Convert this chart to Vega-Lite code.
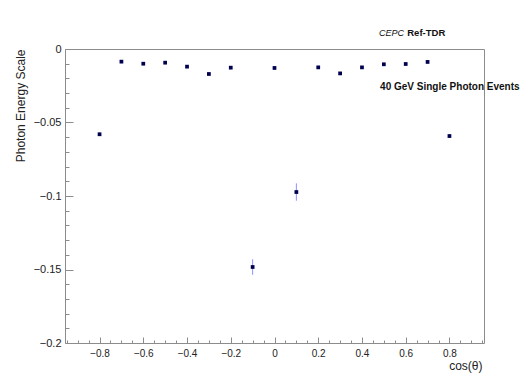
{
  "$schema": "https://vega.github.io/schema/vega-lite/v6.json",
  "autosize": "none",
  "width": 419,
  "height": 294,
  "padding": {"left": 65, "top": 49, "right": 47, "bottom": 35},
  "background": "white",
  "config": {
    "view": {"stroke": "#8c8c8c", "strokeWidth": 1},
    "font": "Liberation Sans",
    "axis": {"grid": false, "domain": false, "tickColor": "#8c8c8c", "labelColor": "#222", "titleColor": "#222", "labelFont": "Liberation Sans", "titleFont": "Liberation Sans", "titleFontWeight": "normal"}
  },
  "data": {"values": [
    {"cos": -0.8, "scale": -0.0580, "lo": -0.0592, "hi": -0.0568},
    {"cos": -0.7, "scale": -0.0086, "lo": -0.0096, "hi": -0.0076},
    {"cos": -0.6, "scale": -0.0100, "lo": -0.0110, "hi": -0.0090},
    {"cos": -0.5, "scale": -0.0093, "lo": -0.0103, "hi": -0.0083},
    {"cos": -0.4, "scale": -0.0120, "lo": -0.0130, "hi": -0.0110},
    {"cos": -0.3, "scale": -0.0170, "lo": -0.0180, "hi": -0.0160},
    {"cos": -0.2, "scale": -0.0127, "lo": -0.0137, "hi": -0.0117},
    {"cos": -0.1, "scale": -0.1483, "lo": -0.1536, "hi": -0.1430},
    {"cos": 0.0, "scale": -0.0129, "lo": -0.0139, "hi": -0.0119},
    {"cos": 0.1, "scale": -0.0973, "lo": -0.1032, "hi": -0.0914},
    {"cos": 0.2, "scale": -0.0125, "lo": -0.0135, "hi": -0.0115},
    {"cos": 0.3, "scale": -0.0166, "lo": -0.0176, "hi": -0.0156},
    {"cos": 0.4, "scale": -0.0125, "lo": -0.0135, "hi": -0.0115},
    {"cos": 0.5, "scale": -0.0104, "lo": -0.0114, "hi": -0.0094},
    {"cos": 0.6, "scale": -0.0102, "lo": -0.0112, "hi": -0.0092},
    {"cos": 0.7, "scale": -0.0088, "lo": -0.0098, "hi": -0.0078},
    {"cos": 0.8, "scale": -0.0592, "lo": -0.0604, "hi": -0.0580}
  ]},
  "resolve": {"axis": {"x": "independent", "y": "independent"}},
  "layer": [
    {
      "mark": {"type": "rule", "color": "#8f8fff", "strokeWidth": 1},
      "encoding": {
        "x": {"field": "cos", "type": "quantitative", "scale": {"domain": [-0.958, 0.958], "nice": false, "zero": false},
          "axis": {"orient": "bottom", "values": [-0.95, -0.9, -0.85, -0.75, -0.7, -0.65, -0.55, -0.5, -0.45, -0.35, -0.3, -0.25, -0.15, -0.1, -0.05, 0.05, 0.1, 0.15, 0.25, 0.3, 0.35, 0.45, 0.5, 0.55, 0.65, 0.7, 0.75, 0.85, 0.9, 0.95], "labels": false, "tickSize": -3, "title": null}},
        "y": {"field": "lo", "type": "quantitative", "scale": {"domain": [-0.2, 0], "nice": false, "zero": false},
          "axis": {"orient": "left", "values": [-0.19, -0.18, -0.17, -0.16, -0.14, -0.13, -0.12, -0.11, -0.09, -0.08, -0.07, -0.06, -0.04, -0.03, -0.02, -0.01], "labels": false, "tickSize": -4, "title": null}},
        "y2": {"field": "hi"}
      }
    },
    {
      "mark": {"type": "square", "color": "#000050", "opacity": 1, "filled": true, "size": 14},
      "encoding": {
        "x": {"field": "cos", "type": "quantitative",
          "axis": {"orient": "bottom", "values": [-0.8, -0.6, -0.4, -0.2, 0, 0.2, 0.4, 0.6, 0.8], "format": "~g", "tickSize": -6, "labelFontSize": 10, "labelPadding": 11, "title": "cos(θ)", "titleFontSize": 12, "titleAnchor": "end", "titleAlign": "right", "titleX": 417, "titleY": 22, "titleBaseline": "middle"}},
        "y": {"field": "scale", "type": "quantitative",
          "axis": {"orient": "left", "values": [-0.2, -0.15, -0.1, -0.05, 0], "format": "~g", "tickSize": -8, "labelFontSize": 11, "labelPadding": 12, "title": "Photon Energy Scale", "titleFontSize": 12, "titleAnchor": "end", "titleAngle": 270, "titleAlign": "right", "titleX": -45, "titleY": 0, "titleBaseline": "middle"}}
      }
    },
    {
      "data": {"values": [{"cos": 0.478, "scale": 0.0107, "label": "CEPC"}]},
      "mark": {"type": "text", "align": "left", "baseline": "middle", "fontStyle": "italic", "fontSize": 9, "color": "#111"},
      "encoding": {"x": {"field": "cos", "type": "quantitative", "axis": null}, "y": {"field": "scale", "type": "quantitative", "axis": null}, "text": {"field": "label"}}
    },
    {
      "data": {"values": [{"cos": 0.607, "scale": 0.0107, "label": "Ref-TDR"}]},
      "mark": {"type": "text", "align": "left", "baseline": "middle", "fontWeight": "bold", "fontSize": 9.5, "color": "#111"},
      "encoding": {"x": {"field": "cos", "type": "quantitative", "axis": null}, "y": {"field": "scale", "type": "quantitative", "axis": null}, "text": {"field": "label"}}
    },
    {
      "data": {"values": [{"cos": 0.483, "scale": -0.0256, "label": "40 GeV Single Photon Events"}]},
      "mark": {"type": "text", "align": "left", "baseline": "middle", "fontWeight": "bold", "fontSize": 10, "color": "#111"},
      "encoding": {"x": {"field": "cos", "type": "quantitative", "axis": null}, "y": {"field": "scale", "type": "quantitative", "axis": null}, "text": {"field": "label"}}
    }
  ]
}
